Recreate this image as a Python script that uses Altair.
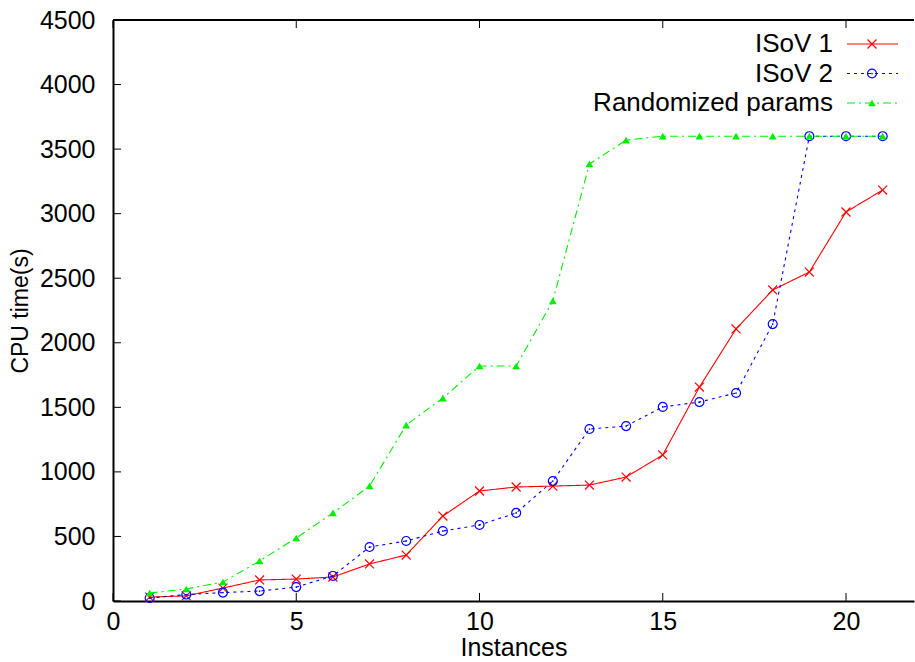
import altair as alt
import pandas as pd

# ---- data ----
instances = list(range(1, 22))
isov1 = [30, 40, 100, 163, 170, 186, 287, 356, 658, 852, 883, 890, 898, 960,
         1131, 1657, 2107, 2409, 2548, 3013, 3183]
isov2 = [23, 50, 65, 77, 108, 194, 418, 465, 542, 589, 682, 929, 1332, 1355,
         1503, 1541, 1611, 2145, 3600, 3600, 3600]
randomized = [62, 93, 147, 310, 488, 682, 891, 1363, 1572, 1820, 1820, 2324,
              3385, 3570, 3600, 3600, 3600, 3600, 3600, 3600, 3600]
series_names = ["ISoV 1", "ISoV 2", "Randomized params"]
x_ticks = [0, 5, 10, 15, 20]
y_ticks = [0, 500, 1000, 1500, 2000, 2500, 3000, 3500, 4000, 4500]

# ---- styles ----
W, H = 801, 581
FONT = "Liberation Sans"
colors = ["#ff0000", "#0000ff", "#00ee00"]
dashes = [[1, 0], [3, 4], [8, 4, 2, 4]]
XPATH = "M-1,-1L1,1M-1,1L1,-1"

x_scale = alt.Scale(domain=[0, 21.855], nice=False, zero=False)
y_scale = alt.Scale(domain=[0, 4500], nice=False, zero=True)

x_axis = alt.Axis(title="Instances", values=x_ticks, ticks=False, tickSize=0,
                  labelPadding=8, domainWidth=2, domainColor="black", grid=False,
                  labelFont=FONT, titleFont=FONT, labelFontSize=25, titleFontSize=25,
                  titleFontWeight="normal", labelColor="black", titleColor="black",
                  labelFlush=False, labelOverlap=False, titlePadding=1, format="d")
y_axis = alt.Axis(title="CPU time(s)", values=y_ticks, ticks=False, tickSize=0,
                  labelPadding=18, domainWidth=2, domainColor="black", grid=False,
                  labelFont=FONT, titleFont=FONT, labelFontSize=25, titleFontSize=23,
                  titleFontWeight="normal", labelColor="black", titleColor="black",
                  labelFlush=False, labelOverlap=False, titlePadding=7, format="d")

X = alt.X("x:Q", scale=x_scale, axis=x_axis)
Y = alt.Y("y:Q", scale=y_scale, axis=y_axis)

layers = []

# frame top line
layers.append(alt.Chart(pd.DataFrame({"x": [0]})).mark_rule(color="black", strokeWidth=2)
              .encode(x=alt.value(0), x2=alt.value(W), y=alt.value(0)))

# inward ticks (bottom, top, left)
xt = pd.DataFrame({"x": x_ticks})
yt = pd.DataFrame({"y": y_ticks})
layers.append(alt.Chart(xt).mark_rule(color="black", strokeWidth=1)
              .encode(x=X, y=alt.value(H), y2=alt.value(H - 8)))
layers.append(alt.Chart(xt).mark_rule(color="black", strokeWidth=1)
              .encode(x=X, y=alt.value(0), y2=alt.value(8)))
layers.append(alt.Chart(yt).mark_rule(color="black", strokeWidth=1)
              .encode(y=Y, x=alt.value(0), x2=alt.value(8)))

all_series = [isov1, isov2, randomized]
for i, (name, vals) in enumerate(zip(series_names, all_series)):
    df = pd.DataFrame({"x": instances, "y": vals})
    base = alt.Chart(df)
    layers.append(base.mark_line(color=colors[i], strokeWidth=1.1,
                                 strokeDash=dashes[i]).encode(x=X, y=Y))
    if i == 0:
        layers.append(base.mark_point(shape=XPATH, size=80, filled=False,
                                      color=colors[i], strokeWidth=1.2, opacity=1)
                      .encode(x=X, y=Y))
    elif i == 1:
        layers.append(base.mark_point(shape="circle", size=80, filled=False,
                                      color=colors[i], strokeWidth=1.2, opacity=1)
                      .encode(x=X, y=Y))
        layers.append(base.mark_point(shape="circle", size=3, filled=True,
                                      color=colors[i], opacity=1)
                      .encode(x=X, y=Y))
    else:
        layers.append(base.mark_point(shape="triangle-up", size=60, filled=True,
                                      color=colors[i], opacity=1)
                      .encode(x=X, y=Y))

# manual legend (text left of sample, right-aligned)
for i, name in enumerate(series_names):
    ly = 24 + i * 29.5
    ldf = pd.DataFrame({"name": [name]})
    lb = alt.Chart(ldf)
    layers.append(lb.mark_text(align="right", baseline="middle", font=FONT,
                               fontSize=26, color="black")
                  .encode(text="name:N", x=alt.value(720), y=alt.value(ly)))
    layers.append(lb.mark_rule(color=colors[i], strokeWidth=1.1, strokeDash=dashes[i])
                  .encode(x=alt.value(734), x2=alt.value(785), y=alt.value(ly)))
    if i == 0:
        layers.append(lb.mark_point(shape=XPATH, size=80, filled=False, color=colors[i],
                                    strokeWidth=1.2, opacity=1)
                      .encode(x=alt.value(759), y=alt.value(ly)))
    elif i == 1:
        layers.append(lb.mark_point(shape="circle", size=80, filled=False, color=colors[i],
                                    strokeWidth=1.2, opacity=1)
                      .encode(x=alt.value(759), y=alt.value(ly)))
        layers.append(lb.mark_point(shape="circle", size=3, filled=True, color=colors[i],
                                    opacity=1)
                      .encode(x=alt.value(759), y=alt.value(ly)))
    else:
        layers.append(lb.mark_point(shape="triangle-up", size=60, filled=True,
                                    color=colors[i], opacity=1)
                      .encode(x=alt.value(759), y=alt.value(ly)))

chart = alt.layer(*layers).properties(
    width=W, height=H,
    autosize="none",
    padding={"left": 113, "top": 20, "right": 1, "bottom": 61},
    background="white",
).configure_view(stroke=None)

chart.save("out.html", embed_options={"renderer": "svg", "actions": False})
